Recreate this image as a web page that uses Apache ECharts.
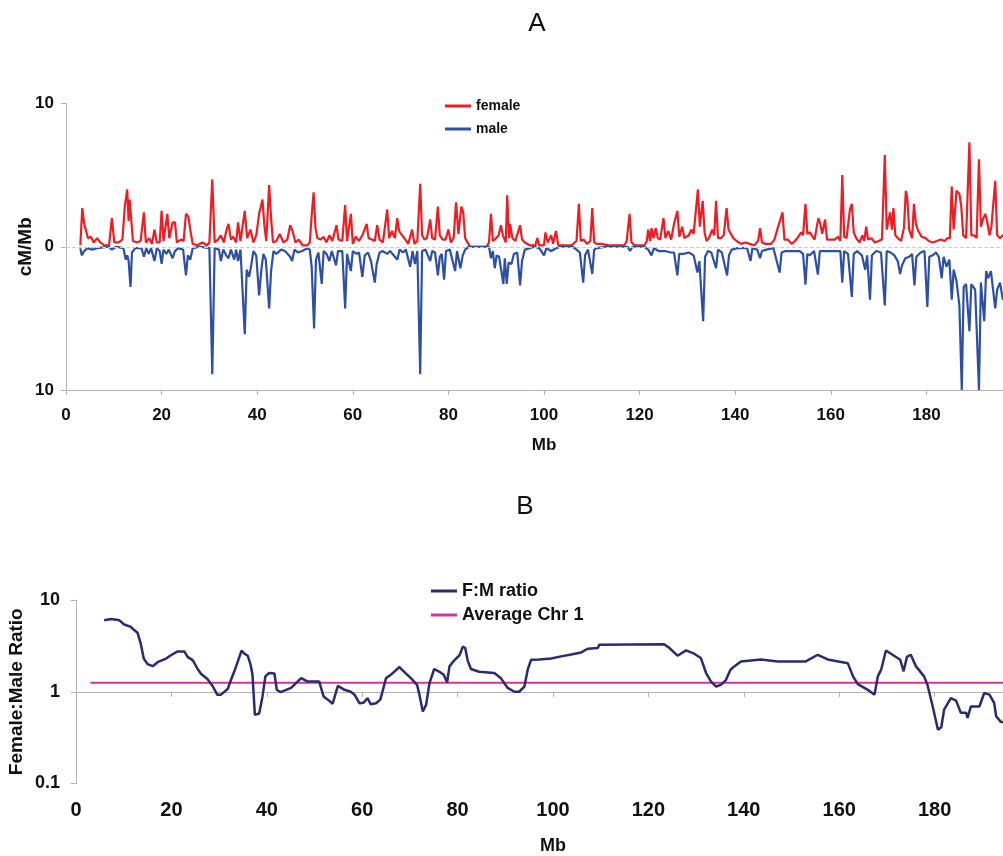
<!DOCTYPE html>
<html><head><meta charset="utf-8">
<script src="https://cdn.jsdelivr.net/npm/echarts@6/dist/echarts.min.js"></script>
<style>html,body{margin:0;padding:0;background:#fff}#c{width:1003px;height:856px}</style>
</head><body><div id="c"></div>
<script>
// ---------- Panel A: recombination rate (cM/Mb) ----------
const femaleMb = [3.0,3.4,3.8,4.2,4.6,5.2,5.8,6.5,7.2,8.0,9.0,9.6,10.1,11.0,11.8,12.3,12.8,13.1,13.3,13.6,14.0,14.8,15.6,16.3,16.7,17.4,18.0,18.5,19.0,19.6,20.0,20.4,20.8,21.2,21.6,22.3,22.8,23.2,24.0,24.6,25.1,25.6,26.0,26.5,27.5,28.5,29.5,30.0,30.6,31.1,31.8,32.4,33.0,33.6,34.0,34.5,35.0,35.6,36.0,36.5,37.4,37.9,38.6,39.2,39.8,40.4,41.1,41.5,41.9,42.5,42.9,43.3,44.0,44.7,45.5,46.3,46.9,47.4,48.0,48.7,49.5,50.5,51.0,51.4,51.8,52.2,52.6,53.3,53.9,54.5,55.1,55.7,56.6,57.0,57.8,58.4,58.8,59.6,60.0,60.6,61.3,62.0,62.9,63.3,64.0,64.6,65.1,65.6,66.3,67.2,67.6,68.2,68.8,69.3,69.7,70.3,71.0,71.6,72.4,72.9,73.5,74.1,74.5,75.0,75.5,76.2,76.6,77.2,77.8,78.2,78.8,79.4,80.0,80.5,81.1,81.6,82.1,82.7,83.1,83.5,84.0,84.6,88.0,88.5,88.9,89.3,90.0,90.5,91.0,91.4,92.0,92.3,92.7,92.9,93.4,94.0,95.0,95.4,96.0,97.0,98.2,98.6,99.0,100.0,100.3,100.8,101.5,101.9,102.5,103.0,104.5,105.8,106.2,106.8,107.3,107.7,108.3,109.0,109.7,110.1,110.5,111.0,112.0,113.5,115.0,116.8,117.3,117.9,118.3,119.0,121.0,121.5,121.8,122.2,122.5,122.9,123.4,123.8,124.3,125.0,125.4,126.0,126.6,127.2,127.9,128.3,128.9,129.4,130.3,130.8,131.3,132.2,132.6,133.2,133.6,134.0,134.5,135.2,135.6,136.0,136.4,137.0,137.6,138.2,138.6,139.0,139.6,140.3,141.2,142.2,143.0,144.0,144.8,145.2,145.6,146.3,147.5,148.2,148.8,149.9,150.3,151.0,151.8,152.5,153.2,153.8,154.2,154.7,155.1,155.6,156.0,156.6,157.4,157.8,158.2,158.8,159.2,160.0,160.8,161.5,162.0,162.4,162.8,163.3,164.0,164.4,164.8,165.3,166.0,166.6,167.0,167.4,167.8,168.5,169.2,170.0,170.7,171.3,171.7,172.4,172.8,173.1,173.5,174.0,174.7,175.3,175.7,176.0,176.4,177.0,177.4,177.8,178.3,179.0,179.8,180.5,181.3,182.2,183.0,183.8,184.4,184.9,185.3,185.7,186.3,186.9,187.3,187.7,188.3,189.0,189.4,190.0,190.5,191.0,191.4,191.8,192.3,192.7,193.2,193.6,194.4,194.8,195.4,196.0,197.0];
const femaleRate = [0.1,2.7,1.6,1.5,0.6,0.7,0.3,0.6,0.3,0.1,0.1,2.0,0.3,0.3,0.5,2.8,4.0,1.8,3.3,2.1,0.4,0.3,0.4,2.4,0.3,0.6,0.2,1.2,0.3,0.3,2.5,0.4,0.5,2.3,0.6,1.7,1.7,0.3,0.5,0.4,2.3,2.1,1.2,0.2,0.1,0.3,0.1,0.3,4.7,0.3,0.5,0.8,0.3,1.2,1.6,0.5,0.7,0.3,1.7,0.4,2.5,0.6,1.2,0.3,0.8,2.3,3.3,1.5,0.4,4.3,2.0,0.3,0.4,0.9,0.3,0.5,1.5,1.1,0.3,0.5,0.1,0.1,0.3,2.2,3.8,1.3,0.6,0.5,0.7,0.3,0.8,0.4,1.5,0.5,0.4,2.9,0.4,2.3,0.2,0.7,0.4,0.8,1.6,0.6,0.5,0.4,1.5,0.5,0.3,2.6,0.6,1.1,0.6,2.0,1.1,0.8,0.5,0.2,1.2,0.2,0.4,4.4,0.8,0.5,0.6,1.9,0.6,0.5,2.8,0.8,0.5,0.5,1.2,0.3,0.6,3.1,0.9,2.8,2.4,0.6,0.3,0.0,0.0,0.3,2.3,0.4,0.6,0.8,1.5,0.8,0.3,3.6,0.6,1.6,0.6,0.4,1.5,0.5,0.3,0.1,0.1,0.6,0.1,0.1,1.0,0.3,0.8,0.2,1.1,0.1,0.1,0.1,0.2,0.4,3.0,0.4,0.5,0.2,0.4,2.7,0.3,0.2,0.2,0.1,0.1,0.1,0.4,2.3,0.3,0.1,0.1,0.4,1.2,0.4,1.3,0.6,1.3,0.6,0.5,2.0,0.6,1.1,0.5,1.6,2.5,0.7,1.4,0.6,0.8,1.2,0.9,4.0,1.4,3.2,1.0,0.4,0.6,1.2,0.8,3.2,0.6,0.6,0.8,2.7,1.2,1.1,0.6,0.4,0.2,0.3,0.2,0.1,0.4,1.3,0.3,0.2,0.2,0.5,1.2,2.4,0.5,0.5,0.2,0.4,0.7,1.0,0.8,3.0,0.9,1.0,0.8,0.5,2.0,1.6,0.9,1.9,0.5,0.5,0.5,0.7,0.4,5.0,0.7,0.6,2.6,3.0,1.0,0.6,0.3,0.8,0.4,1.4,0.5,0.6,0.3,0.4,0.5,6.4,1.2,2.4,1.2,2.7,0.8,0.6,0.4,1.3,3.9,3.4,1.2,0.6,3.0,1.6,1.1,0.7,0.6,0.4,0.3,0.4,0.5,0.4,0.6,0.6,4.2,1.2,3.9,3.7,2.8,0.8,0.6,7.3,0.8,0.8,0.6,6.1,1.4,1.9,2.3,1.8,0.8,1.4,4.6,0.8,0.6,0.8,0.5];

const maleMb = [3.0,3.3,3.8,4.5,5.5,6.5,9.0,9.6,10.5,12.0,12.5,12.8,13.1,13.5,13.8,14.5,15.8,16.3,16.8,17.3,17.8,18.5,19.0,19.6,20.0,20.4,21.0,21.5,22.3,22.8,23.5,24.5,25.1,25.5,26.0,26.5,28.0,30.0,30.6,31.1,32.0,32.4,32.9,33.5,34.0,34.5,35.2,35.6,36.0,36.5,37.4,37.8,38.3,38.7,39.2,39.8,40.4,40.9,41.3,41.8,42.5,42.9,43.4,44.0,45.0,45.8,46.9,47.3,47.8,48.5,49.4,50.5,51.0,51.4,51.9,52.3,52.8,53.5,53.9,54.5,55.1,55.6,56.5,56.9,57.8,58.4,58.8,59.6,60.0,60.8,61.3,62.0,62.5,63.2,63.8,64.6,65.0,65.6,66.3,67.2,67.8,68.8,69.3,69.8,70.5,71.1,72.0,72.5,73.0,73.5,74.1,74.5,75.2,76.2,76.6,77.2,77.8,78.2,78.6,79.1,79.5,80.3,81.4,81.8,82.5,83.0,83.5,84.3,88.5,88.9,89.3,89.7,90.1,90.6,91.5,91.8,92.2,92.6,93.2,93.7,94.4,95.0,95.4,96.0,97.0,98.0,99.0,100.0,100.5,101.5,102.5,103.5,106.0,106.8,107.5,108.2,108.6,109.2,110.1,110.5,111.0,113.0,117.5,118.0,118.5,121.0,121.8,122.5,123.0,124.0,125.3,126.5,127.2,127.9,128.3,129.2,130.3,131.3,132.1,132.5,133.3,133.7,134.3,135.0,136.0,136.4,137.2,138.3,138.7,139.3,140.5,142.5,143.2,143.6,144.6,145.2,145.6,146.5,148.0,149.3,149.7,150.5,152.0,153.5,154.2,154.7,155.1,155.6,156.5,157.3,157.7,158.5,160.0,161.5,162.0,162.4,162.8,163.6,164.4,164.8,165.5,166.5,167.2,167.6,168.2,168.6,169.5,170.5,171.3,171.7,172.5,173.3,174.0,174.5,174.9,175.6,176.4,177.0,177.5,177.9,178.8,179.6,180.2,180.6,181.3,182.0,182.6,183.2,183.6,184.2,184.8,185.3,185.7,186.3,186.9,187.4,187.8,188.3,189.0,189.4,190.2,191.0,191.4,192.1,192.5,192.9,193.5,194.4,194.8,195.4,196.0,197.0];
const maleRate = [0.1,0.6,0.3,0.1,0.2,0.1,0.0,0.2,0.0,0.1,0.9,0.6,1.0,2.8,0.4,0.1,0.1,0.7,0.1,0.5,0.1,1.0,0.1,0.3,1.2,0.2,0.5,0.2,0.8,0.3,0.1,0.2,2.0,0.6,0.9,0.1,0.0,0.1,8.9,0.1,0.2,1.0,0.2,0.6,0.8,0.2,0.9,0.2,1.0,0.2,6.1,1.6,2.1,1.4,0.3,0.6,3.4,1.5,0.5,0.9,4.3,1.7,0.3,0.5,0.2,0.3,0.7,1.0,0.2,0.4,0.3,0.1,0.2,1.4,5.7,0.9,0.4,2.6,0.3,0.5,1.0,0.3,1.3,0.3,0.3,4.3,0.5,1.7,0.3,0.5,0.4,2.1,0.6,0.4,1.0,2.5,1.2,0.4,0.3,0.5,0.3,0.7,0.9,0.2,0.4,0.2,1.4,0.3,1.2,0.3,8.9,0.3,0.2,1.0,0.3,0.4,2.0,0.7,0.5,2.3,0.3,0.2,1.7,0.3,1.5,0.6,0.2,0.0,0.0,0.8,0.3,1.5,0.6,0.7,2.6,0.8,2.6,1.1,1.2,0.5,0.4,2.7,1.0,0.2,0.1,0.0,0.1,0.6,0.1,0.3,0.1,0.0,0.0,0.2,0.4,2.5,0.6,0.2,1.9,0.2,0.1,0.0,0.0,0.3,0.0,0.0,0.2,0.6,0.1,0.3,0.3,0.4,0.4,2.0,0.5,0.5,0.4,0.6,1.8,1.0,5.2,0.7,0.3,0.4,1.5,0.2,0.4,2.0,0.6,0.2,0.1,0.1,1.0,0.1,0.2,0.8,0.3,0.2,0.1,1.8,0.4,0.3,0.3,0.3,0.5,2.65,0.5,0.6,0.3,1.95,0.3,0.3,0.3,0.3,0.3,2.5,0.3,0.5,3.5,0.5,0.3,0.6,1.6,0.6,3.7,0.6,0.3,0.4,4.1,0.3,0.4,0.6,1.0,1.9,1.3,0.8,0.7,0.5,2.7,0.7,0.4,0.3,4.2,0.7,0.6,0.4,0.7,2.2,0.7,1.4,0.9,3.7,1.6,2.4,4.1,10,2.8,2.6,5.9,2.6,3.0,10,2.5,5.2,1.7,2.2,1.7,4.3,3.0,2.5,3.7,2.0];

// ---------- Panel B: female:male ratio (log scale) ----------
const ratioMb = [5.9,7.4,9.1,10.1,11.5,12.2,12.9,13.6,14.2,15.0,16.1,17.1,18.9,19.9,21.3,22.7,23.4,24.5,25.5,26.2,27.6,28.7,29.6,30.4,31.8,32.5,33.2,34.0,34.7,35.3,36.0,36.6,37.0,37.5,38.4,39.1,39.7,40.5,41.6,42.1,42.9,45.1,47.2,48.6,51.0,51.9,52.8,53.8,54.9,56.3,57.6,58.4,59.4,60.3,61.1,61.8,62.9,63.8,65.0,66.0,67.8,68.8,70.2,71.5,72.0,72.7,73.4,74.1,75.1,76.2,77.1,77.8,78.3,79.3,80.4,81.1,81.6,82.1,82.8,84.5,87.7,89.1,90.5,91.9,92.9,94.0,94.7,95.4,97.1,99.6,101.7,103.8,105.9,107.3,109.4,109.7,123.3,124.4,126.1,127.9,129.6,131.0,132.1,133.1,134.2,135.2,136.2,137.2,138.0,139.4,143.6,147.1,153.0,155.5,157.6,161.8,162.9,163.9,166.0,167.4,168.1,168.8,169.8,171.5,172.8,173.5,174.2,175.0,176.1,177.8,178.5,179.6,180.7,181.4,182.0,183.4,184.5,185.5,186.6,186.9,187.6,189.4,190.4,191.5,192.5,192.9,193.9,195.5];
const ratioVal = [6.0,6.2,6.0,5.4,5.1,4.7,4.4,3.3,2.3,2.0,1.9,2.1,2.3,2.5,2.75,2.75,2.4,2.2,1.77,1.57,1.37,1.14,0.93,0.93,1.07,1.35,1.67,2.2,2.8,2.6,2.47,1.97,1.53,0.56,0.58,0.89,1.47,1.6,1.58,1.05,0.99,1.1,1.41,1.29,1.29,0.89,0.82,0.74,1.16,1.05,1.0,0.93,0.75,0.76,0.85,0.73,0.75,0.82,1.41,1.53,1.86,1.65,1.41,1.19,0.93,0.61,0.72,1.24,1.77,1.65,1.53,1.26,1.89,2.2,2.5,3.1,3.0,2.2,1.77,1.65,1.6,1.4,1.1,1.0,1.0,1.14,1.74,2.23,2.25,2.3,2.43,2.55,2.68,2.94,3.0,3.26,3.3,3.0,2.47,2.82,2.6,2.33,1.6,1.3,1.14,1.19,1.33,1.74,1.89,2.14,2.25,2.14,2.14,2.53,2.25,2.05,1.47,1.21,1.05,0.93,1.47,1.74,2.82,2.47,2.23,1.67,2.4,2.53,1.89,1.47,1.19,0.69,0.385,0.41,0.64,0.85,0.8,0.59,0.59,0.52,0.69,0.69,0.97,0.93,0.75,0.54,0.47,0.45];
const avgMb = [3, 200];
const avgVal = [1.25, 1.25];

const FONT = '"Liberation Sans", Arial, Helvetica, sans-serif';
const AXC = '#b4b4b4';
const pair = (xs, ys, s) => xs.map((x, i) => [x, s * ys[i]]);

const chart = echarts.init(document.getElementById('c'));
chart.setOption({
  animation: false,
  backgroundColor: '#fff',
  textStyle: { fontFamily: FONT },
  title: [
    { text: 'A', left: 537, top: 11, textAlign: 'center', padding: 0, textStyle: { fontSize: 26, fontWeight: 'normal', color: '#111', fontFamily: FONT } },
    { text: 'B', left: 525, top: 494, textAlign: 'center', padding: 0, textStyle: { fontSize: 26, fontWeight: 'normal', color: '#111', fontFamily: FONT } }
  ],
  legend: [
    { orient: 'vertical', left: 440, top: 94, itemWidth: 26, itemHeight: 3, itemGap: 9, icon: 'rect',
      data: ['female', 'male'], textStyle: { fontSize: 14, fontWeight: 'bold', color: '#111', fontFamily: FONT } },
    { orient: 'vertical', left: 426, top: 577, itemWidth: 26, itemHeight: 3, itemGap: 6, icon: 'rect',
      data: ['F:M ratio', 'Average Chr 1'], textStyle: { fontSize: 18, fontWeight: 'bold', color: '#111', fontFamily: FONT } }
  ],
  grid: [
    { left: 66, top: 103.5, right: -19, height: 286.5, outerBoundsMode: 'none', containLabel: false },
    { left: 76, top: 600, right: -27, height: 183.5, outerBoundsMode: 'none', containLabel: false }
  ],
  xAxis: [
    { gridIndex: 0, type: 'value', min: 0, max: 200, interval: 20,
      name: 'Mb', nameLocation: 'middle', nameGap: 47, nameMoveOverlap: false,
      nameTextStyle: { fontSize: 17, fontWeight: 'bold', color: '#111', fontFamily: FONT },
      axisLine: { onZero: false, lineStyle: { color: AXC } },
      axisTick: { length: 5, lineStyle: { color: AXC } },
      axisLabel: { margin: 17, fontSize: 17, fontWeight: 'bold', color: '#111', fontFamily: FONT },
      splitLine: { show: false } },
    { gridIndex: 1, type: 'value', min: 0, max: 200, interval: 20,
      name: 'Mb', nameLocation: 'middle', nameGap: 54, nameMoveOverlap: false,
      nameTextStyle: { fontSize: 18, fontWeight: 'bold', color: '#111', fontFamily: FONT },
      axisLine: { show: false }, axisTick: { show: false },
      axisLabel: { margin: 17, fontSize: 20, fontWeight: 'bold', color: '#111', fontFamily: FONT },
      splitLine: { show: false } },
    { gridIndex: 1, type: 'value', min: 0, max: 200, interval: 20, position: 'bottom', offset: -91.75,
      axisLine: { lineStyle: { color: AXC } },
      axisTick: { length: 5, lineStyle: { color: AXC } },
      axisLabel: { show: false }, splitLine: { show: false } }
  ],
  yAxis: [
    { gridIndex: 0, type: 'value', min: -10, max: 10, interval: 10,
      name: 'cM/Mb', nameLocation: 'middle', nameGap: 31, nameMoveOverlap: false,
      nameTextStyle: { fontSize: 19, fontWeight: 'bold', color: '#111', fontFamily: FONT },
      axisLine: { show: true, lineStyle: { color: AXC } },
      axisTick: { show: true, length: 5, lineStyle: { color: AXC } },
      axisLabel: { margin: 12, fontSize: 17, fontWeight: 'bold', color: '#111', fontFamily: FONT,
                   formatter: v => String(Math.abs(v)) },
      splitLine: { show: false } },
    { gridIndex: 1, type: 'log', logBase: 10, min: 0.1, max: 10,
      name: 'Female:Male Ratio', nameLocation: 'middle', nameGap: 50, nameMoveOverlap: false,
      nameTextStyle: { fontSize: 19, fontWeight: 'bold', color: '#111', fontFamily: FONT },
      axisLine: { show: true, lineStyle: { color: AXC } },
      axisTick: { show: true, length: 5, lineStyle: { color: AXC } },
      axisLabel: { margin: 16, fontSize: 18, fontWeight: 'bold', color: '#111', fontFamily: FONT },
      minorTick: { show: false }, splitLine: { show: false } }
  ],
  series: [
    { name: 'female', type: 'line', xAxisIndex: 0, yAxisIndex: 0, data: pair(femaleMb, femaleRate, 1),
      showSymbol: false, symbol: 'none', lineStyle: { color: '#ee1d23', width: 2.2 }, itemStyle: { color: '#ee1d23' } },
    { name: 'male', type: 'line', xAxisIndex: 0, yAxisIndex: 0, data: pair(maleMb, maleRate, -1),
      showSymbol: false, symbol: 'none', lineStyle: { color: '#2e4fa6', width: 2.2 }, itemStyle: { color: '#2e4fa6' },
      markLine: { silent: true, symbol: 'none', label: { show: false },
                  lineStyle: { color: '#cfcfcf', type: 'dashed', width: 1 }, data: [{ yAxis: 0 }] } },
    { name: 'Average Chr 1', type: 'line', xAxisIndex: 1, yAxisIndex: 1, data: pair(avgMb, avgVal, 1),
      showSymbol: false, symbol: 'none', lineStyle: { color: '#d2359f', width: 2 }, itemStyle: { color: '#d2359f' } },
    { name: 'F:M ratio', type: 'line', xAxisIndex: 1, yAxisIndex: 1, data: pair(ratioMb, ratioVal, 1),
      showSymbol: false, symbol: 'none', lineStyle: { color: '#2b2a72', width: 2.5 }, itemStyle: { color: '#2b2a72' } }
  ]
});
</script>
</body></html>
